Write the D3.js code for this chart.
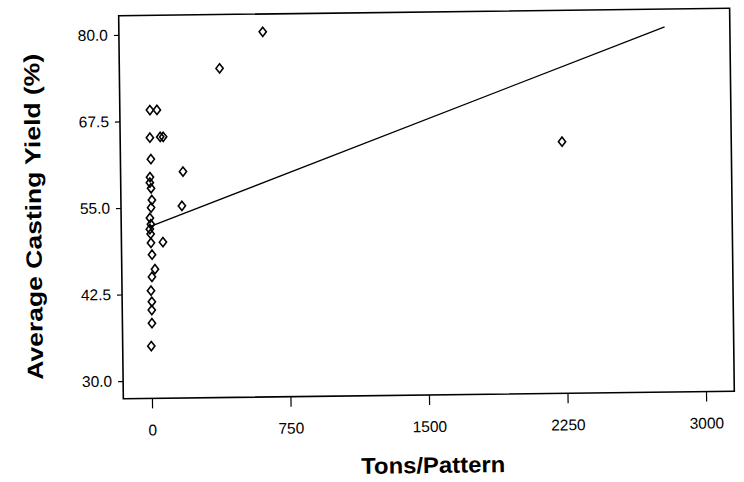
<!DOCTYPE html>
<html>
<head>
<meta charset="utf-8">
<script src="https://cdn.jsdelivr.net/npm/d3@7"></script>
<style>
  html, body { margin: 0; padding: 0; background: #fff; }
  svg { display: block; }
</style>
</head>
<body>
<svg id="chart" width="744" height="482"></svg>
<script>
// ---- data ----
const tonsPerPattern = [8, 46, 6, 62, 78, 10, 183, 4, 3, 9, 13, 8, 175, 1, 6, 0, 4, 5, 70, 10, 25, 8, 2, 6, 5, 5, 0, 388, 624, 2237];
const castingYield   = [69.1, 69.1, 65.1, 65.2, 65.2, 62.0, 60.15, 59.4, 58.6, 57.8, 56.1, 55.0, 55.2, 53.5, 52.6, 51.9, 51.2, 49.9, 50.0, 48.2, 46.1, 45.0, 43.0, 41.4, 40.2, 38.3, 35.0, 75.0, 80.2, 63.8];
const fitLineX = [0, 2800];
const fitLineY = [52.25, 80.2];
const xTicks = [0, 750, 1500, 2250, 3000];
const yTicks = [30.0, 42.5, 55.0, 67.5, 80.0];
const xTitle = "Tons/Pattern";
const yTitle = "Average Casting Yield (%)";

// ---- layout ----
const frame = { left: 121, top: 12, right: 732, bottom: 395 };
const svg = d3.select("#chart");
const g = svg.append("g").attr("transform", "rotate(-0.7 427 205)");

const x = d3.scaleLinear().domain([0, 3000]).range([149.6, 703.7]);
const y = d3.scaleLinear().domain([30, 80]).range([377.3, 31.2]);

// frame
g.append("rect")
  .attr("x", frame.left).attr("y", frame.top)
  .attr("width", frame.right - frame.left).attr("height", frame.bottom - frame.top)
  .attr("fill", "none").attr("stroke", "#000").attr("stroke-width", 1.6);

// y axis
const yAxis = d3.axisLeft(y).tickValues(yTicks).tickFormat(d3.format(".1f"))
  .tickSizeInner(5).tickSizeOuter(0).tickPadding(6);
const ya = g.append("g").attr("transform", `translate(${frame.left},0)`).call(yAxis);
ya.select(".domain").remove();
ya.selectAll("line").attr("stroke", "#000").attr("stroke-width", 1.2);
ya.selectAll("text").attr("font-family", "Liberation Sans, Arial, sans-serif")
  .attr("font-size", 15.5).attr("fill", "#000");

// x axis
const xAxis = d3.axisBottom(x).tickValues(xTicks).tickFormat(d3.format("d"))
  .tickSizeInner(10).tickSizeOuter(0).tickPadding(16);
const xa = g.append("g").attr("transform", `translate(0,${frame.bottom})`).call(xAxis);
xa.select(".domain").remove();
xa.selectAll("line").attr("stroke", "#000").attr("stroke-width", 1.2);
xa.selectAll("text").attr("font-family", "Liberation Sans Narrow, Liberation Sans, Arial, sans-serif")
  .attr("font-size", 15.5).attr("fill", "#000");

// fit line
const lineData = fitLineX.map((d, i) => [d, fitLineY[i]]);
g.append("path")
  .datum(lineData)
  .attr("d", d3.line().x(d => x(d[0])).y(d => y(d[1])))
  .attr("fill", "none").attr("stroke", "#000").attr("stroke-width", 1.3);

// diamonds
const pts = tonsPerPattern.map((d, i) => ({ t: d, v: castingYield[i] }));
const diamond = "M0,-4.6 L3.6,0 L0,4.6 L-3.6,0 Z";
g.append("g").selectAll("path").data(pts).join("path")
  .attr("transform", d => `translate(${x(d.t)},${y(d.v)})`)
  .attr("d", diamond)
  .attr("fill", "none").attr("stroke", "#000").attr("stroke-width", 1.6);

// titles
g.append("text")
  .attr("x", 430).attr("y", 473)
  .attr("text-anchor", "middle")
  .attr("font-family", "Liberation Sans, Arial, sans-serif")
  .attr("font-weight", "bold").attr("font-size", 22.5)
  .attr("textLength", 144).attr("lengthAdjust", "spacingAndGlyphs")
  .text(xTitle);

g.append("text")
  .attr("transform", "translate(41,212) rotate(-90)")
  .attr("text-anchor", "middle")
  .attr("font-family", "Liberation Sans, Arial, sans-serif")
  .attr("font-weight", "bold").attr("font-size", 22)
  .attr("textLength", 326).attr("lengthAdjust", "spacingAndGlyphs")
  .text(yTitle);
</script>
</body>
</html>
